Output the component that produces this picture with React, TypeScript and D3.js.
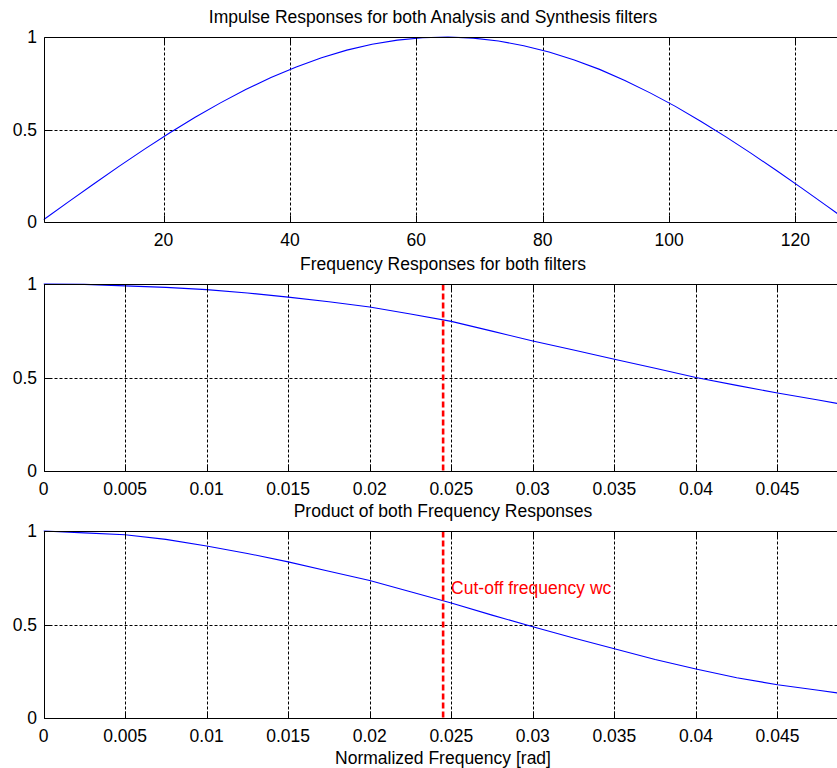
import React from "react";
import * as d3 from "d3";

// impulse response (sample index / amplitude)
const impulseN = [1, 5, 9, 13, 17, 21, 25, 29, 33, 37, 41, 45, 49, 53, 57, 61, 65, 69, 73, 77, 81, 85, 89, 93, 97, 101, 105, 109, 113, 117, 121, 125, 128];
const impulseVal = [0.012, 0.11, 0.207, 0.302, 0.394, 0.482, 0.566, 0.644, 0.716, 0.781, 0.838, 0.888, 0.929, 0.961, 0.983, 0.996, 1.0, 0.994, 0.978, 0.953, 0.919, 0.876, 0.825, 0.765, 0.698, 0.625, 0.545, 0.46, 0.371, 0.278, 0.183, 0.086, 0.012];

// frequency axis (normalized, rad)
const freqX = [0, 0.0025, 0.005, 0.0075, 0.01, 0.0125, 0.015, 0.0175, 0.02, 0.0225, 0.025, 0.0275, 0.03, 0.0325, 0.035, 0.0375, 0.04, 0.0425, 0.045, 0.0475, 0.0492];
const freqResp = [1.0, 0.998, 0.99, 0.982, 0.97, 0.952, 0.93, 0.905, 0.877, 0.84, 0.8, 0.748, 0.695, 0.647, 0.598, 0.549, 0.5, 0.458, 0.417, 0.38, 0.353];
const productResp = [1.0, 0.99, 0.98, 0.955, 0.92, 0.88, 0.835, 0.785, 0.735, 0.675, 0.615, 0.55, 0.488, 0.428, 0.37, 0.313, 0.262, 0.215, 0.178, 0.148, 0.128];

const impulseTicks = [20, 40, 60, 80, 100, 120];
const freqTicks = [0, 0.005, 0.01, 0.015, 0.02, 0.025, 0.03, 0.035, 0.04, 0.045];
const yTicks = [0, 0.5, 1];
const cutoff = 0.0245;

const W = 837;
const H = 768;
const FONT = "'Liberation Sans', Arial, Helvetica, sans-serif";
const FS = 17.5;
const LEFT = 43.5;
const RIGHT = 846;

interface PanelProps {
  top: number;
  bottom: number;
  xs: number[];
  ys: number[];
  xDomain: [number, number];
  xTicks: number[];
  title: string;
  titleX: number;
  showCutoff?: boolean;
  cutoffLabel?: boolean;
  id: string;
}

const Panel: React.FC<PanelProps> = ({ top, bottom, xs, ys, xDomain, xTicks, title, titleX, showCutoff, cutoffLabel, id }) => {
  const x = d3.scaleLinear().domain(xDomain).range([LEFT, RIGHT]);
  const y = d3.scaleLinear().domain([0, 1]).range([bottom, top]);
  const px = (v: number) => Math.round(x(v)) + 0.5;
  const py = (v: number) => Math.round(y(v)) + 0.5;
  const line = d3
    .line<number>()
    .x((_, i) => x(xs[i]))
    .y((d) => y(d));
  const yb = py(0);
  const yt = py(1);
  const xl = px(xDomain[0]);
  const tick = 7;

  return (
    <g>
      <defs>
        <clipPath id={id}>
          <rect x={LEFT} y={top - 1} width={RIGHT - LEFT} height={bottom - top + 2} />
        </clipPath>
      </defs>
      {/* grid */}
      {xTicks.map((t) => (
        <line key={"gx" + t} x1={px(t)} x2={px(t)} y1={yt} y2={yb} stroke="#000" strokeDasharray="3,2" />
      ))}
      <line x1={xl} x2={W} y1={py(0.5)} y2={py(0.5)} stroke="#000" strokeDasharray="3,2" />
      {/* curve */}
      <path d={line(ys) ?? ""} fill="none" stroke="#0000ff" strokeWidth={1.1} clipPath={`url(#${id})`} />
      {showCutoff && (
        <line x1={x(cutoff)} x2={x(cutoff)} y1={yt} y2={yb} stroke="#ff0000" strokeWidth={2.6} strokeDasharray="6,3" />
      )}
      {cutoffLabel && (
        <text x={x(cutoff) + 8} y={py(0.5) - 32} fill="#ff0000" fontFamily={FONT} fontSize={FS}>
          Cut-off frequency wc
        </text>
      )}
      {/* axes box */}
      <line x1={xl} x2={W} y1={yt} y2={yt} stroke="#000" />
      <line x1={xl} x2={W} y1={yb} y2={yb} stroke="#000" />
      <line x1={xl} x2={xl} y1={yt} y2={yb} stroke="#000" />
      {/* ticks */}
      {xTicks.map((t) => (
        <g key={"tx" + t}>
          <line x1={px(t)} x2={px(t)} y1={yb} y2={yb - tick} stroke="#000" />
          <line x1={px(t)} x2={px(t)} y1={yt} y2={yt + tick} stroke="#000" />
          <text x={x(t)} y={yb + 23} textAnchor="middle" fontFamily={FONT} fontSize={FS} fill="#000">
            {String(t)}
          </text>
        </g>
      ))}
      {yTicks.map((t) => (
        <g key={"ty" + t}>
          <line x1={xl} x2={xl + tick} y1={py(t)} y2={py(t)} stroke="#000" />
          <text x={37} y={y(t) + 6.3} textAnchor="end" fontFamily={FONT} fontSize={FS} fill="#000">
            {String(t)}
          </text>
        </g>
      ))}
      <text x={titleX} y={top - 14.5} textAnchor="middle" fontFamily={FONT} fontSize={FS} fill="#000">
        {title}
      </text>
    </g>
  );
};

export default function App() {
  return (
    <svg width={W} height={H} style={{ position: "absolute", left: 0, top: 0, background: "#fff" }}>
      <rect width={W} height={H} fill="#fff" />
      <Panel
        id="c1"
        top={37}
        bottom={222}
        xs={impulseN}
        ys={impulseVal}
        xDomain={[1, 128]}
        xTicks={impulseTicks}
        title="Impulse Responses for both Analysis and Synthesis filters"
        titleX={433}
      />
      <Panel
        id="c2"
        top={284}
        bottom={471}
        xs={freqX}
        ys={freqResp}
        xDomain={[0, 0.0492]}
        xTicks={freqTicks}
        title="Frequency Responses for both filters"
        titleX={443}
        showCutoff
      />
      <Panel
        id="c3"
        top={531}
        bottom={718}
        xs={freqX}
        ys={productResp}
        xDomain={[0, 0.0492]}
        xTicks={freqTicks}
        title="Product of both Frequency Responses"
        titleX={443}
        showCutoff
        cutoffLabel
      />
      <text x={443} y={764} textAnchor="middle" fontFamily={FONT} fontSize={FS} fill="#000">
        Normalized Frequency [rad]
      </text>
    </svg>
  );
}
